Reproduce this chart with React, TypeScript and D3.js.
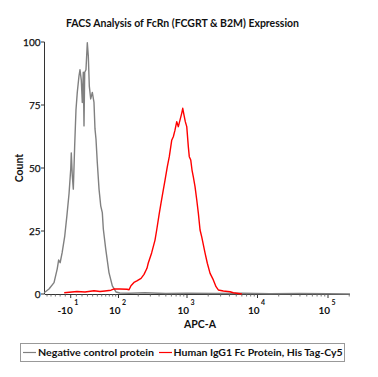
import React from "react";
import * as d3 from "d3";

const title = "FACS Analysis of FcRn (FCGRT & B2M) Expression";
const xTitle = "APC-A";
const yTitle = "Count";
const seriesNames = ["Negative control protein", "Human IgG1 Fc Protein, His Tag-Cy5"];
const seriesColors = ["#808080", "#ff0000"];

const yTicks = [0, 25, 50, 75, 100];
const xMajor = [
  { v: -10, base: "-10", exp: "1" },
  { v: 100, base: "10", exp: "2" },
  { v: 1000, base: "10", exp: "3" },
  { v: 10000, base: "10", exp: "4" },
  { v: 100000, base: "10", exp: "5" },
];

// Negative control (APC-A value, count)
const grayAPC = [-68, -55, -43, -36, -33, -30, -26, -21, -17, -13, -10, -9, -7.2, -5.4, -3, -0.7, 1.6, 4.6, 6.4, 8.7, 10.5, 12.3, 13.6, 14.9, 17.2, 19.7, 21.6, 23.5, 26.2, 29.4, 32.8, 34.9, 37, 39.9, 43.7, 47.6, 51.4, 53.9, 60, 69, 79, 91, 105, 150, 250, 500, 1000, 2500, 6000, 15000, 40000, 100000, 205000];
const grayCount = [0.5, 2, 4.5, 10, 13.5, 12.4, 16.4, 23, 31, 40, 49.6, 56, 47, 41.6, 58.7, 73, 80, 86.5, 89, 85, 76, 88, 66.7, 88, 89, 99.7, 94.4, 82.5, 77.4, 80, 76, 65.5, 61.5, 52, 41.6, 35, 32.3, 25.8, 17.9, 8.5, 3.2, 0.8, 0.4, 0.3, 0.5, 0.2, 0.3, 0.2, 0.3, 0.1, 0.2, 0.1, 0];

// Human IgG1 Fc (APC-A value, count)
const redAPC = [-22, 1.1, 15.4, 32.8, 46, 58, 75, 85, 105, 136, 146, 156, 173, 191, 220, 243, 268, 280, 313, 350, 370, 403, 426, 460, 487, 525, 560, 606, 639, 675, 715, 753, 795, 841, 870, 907, 946, 992, 1044, 1078, 1130, 1178, 1230, 1300, 1376, 1450, 1532, 1618, 1805, 1943, 2126, 2364, 2581, 2782, 3277, 4076, 4541, 6000];
const redCount = [0.5, 1, 0.8, 1.3, 1, 1.2, 1.5, 2, 2, 1.9, 1.7, 3.3, 4.6, 5.2, 6.2, 7.8, 10.2, 12.3, 16.3, 21.4, 25.4, 32, 36, 41.3, 45.2, 50.5, 54.5, 61, 62.4, 65, 68.4, 66.4, 69, 71.7, 73.7, 71, 68.4, 66.4, 58.5, 54.5, 53.2, 49.2, 46.5, 42.6, 37.3, 32, 25.4, 22.7, 16.2, 12.2, 8.2, 5.6, 2.9, 1.6, 1.2, 0.9, 0.5, 0];

const xDomain = [-66, 205000];
const yDomain = [0, 100];

const FONT = "Lato, 'Open Sans', sans-serif";

export default function App() {
  const D = 54;
  const tx = (v: number) => Math.asinh(v / D);
  const xLin = d3.scaleLinear().domain([tx(1000), tx(100000)]).range([187, 328]);
  const x = (v: number) => xLin(tx(v));
  const y = d3.scaleLinear().domain(yDomain).range([294, 42]);

  const line = d3
    .line<[number, number]>()
    .x((d) => x(d[0]))
    .y((d) => y(d[1]));

  const grayPts = grayAPC.map((v, i) => [v, grayCount[i]] as [number, number]);
  const redPts = redAPC.map((v, i) => [v, redCount[i]] as [number, number]);

  const minor: number[] = [];
  for (let v = -60; v <= 90; v += 10) if (v !== -10) minor.push(v);
  for (let k = 2; k <= 5; k++) for (let m = 2; m <= 9; m++) {
    const v = m * Math.pow(10, k);
    if (v <= xDomain[1]) minor.push(v);
  }

  const x0 = x(xDomain[0]);
  const x1 = x(xDomain[1]);
  const yb = y(0);

  return (
    <svg
      width={378}
      height={377}
      style={{ position: "absolute", left: 0, top: 0, background: "#fff" }}
      fontFamily={FONT}
    >
      <rect width={378} height={377} fill="#fff" />
      <text x={182.5} y={27} textAnchor="middle" fontSize={11} fontWeight="bold" fill="#111" textLength={233} lengthAdjust="spacingAndGlyphs">
        {title}
      </text>

      {/* y axis */}
      <line x1={44.5} x2={44.5} y1={y(100)} y2={yb} stroke="#333" strokeWidth={1} />
      {yTicks.map((t) => (
        <g key={t}>
          <line x1={41} x2={44.5} y1={y(t)} y2={y(t)} stroke="#333" strokeWidth={1} />
          <text x={40.5} y={y(t) + 3.5} textAnchor="end" fontSize={10} fill="#111" stroke="#111" strokeWidth={0.25}>
            {t}
          </text>
        </g>
      ))}
      <text
        transform={`translate(23,168) rotate(-90)`}
        textAnchor="middle"
        fontSize={10.5}
        fontWeight="bold"
        fill="#111"
      >
        {yTitle}
      </text>

      {/* x axis */}
      <line x1={x0} x2={x1} y1={yb + 0.5} y2={yb + 0.5} stroke="#333" strokeWidth={1} />
      {minor.map((v) => (
        <line key={"m" + v} x1={x(v)} x2={x(v)} y1={yb} y2={yb + 2.5} stroke="#555" strokeWidth={0.8} />
      ))}
      {xMajor.map((t) => (
        <g key={t.v}>
          <line x1={x(t.v)} x2={x(t.v)} y1={yb} y2={yb + 4} stroke="#333" strokeWidth={1} />
          <text x={x(t.v) + 2} y={314} textAnchor="end" fontSize={10} fontWeight="bold" fill="#111">
            {t.base}
          </text>
          <text x={x(t.v) + 3.5} y={305} textAnchor="start" fontSize={7} fontWeight="bold" fill="#111">
            {t.exp}
          </text>
        </g>
      ))}
      <text x={200} y={328} textAnchor="middle" fontSize={10.5} fontWeight="bold" fill="#111">
        {xTitle}
      </text>

      {/* series */}
      <path d={line(grayPts) || ""} fill="none" stroke={seriesColors[0]} strokeWidth={1.4} strokeLinejoin="round" />
      <path d={line(redPts) || ""} fill="none" stroke={seriesColors[1]} strokeWidth={1.4} strokeLinejoin="round" />

      {/* legend */}
      <rect x={20.5} y={343.5} width={324} height={18} fill="#fff" stroke="#999" strokeWidth={1} />
      <line x1={23} x2={36} y1={352.5} y2={352.5} stroke={seriesColors[0]} strokeWidth={1.2} />
      <text x={38} y={356} fontSize={10} fontWeight="bold" fill="#111" textLength={116} lengthAdjust="spacingAndGlyphs">
        {seriesNames[0]}
      </text>
      <line x1={159} x2={172} y1={352.5} y2={352.5} stroke={seriesColors[1]} strokeWidth={1.2} />
      <text x={173.5} y={356} fontSize={10} fontWeight="bold" fill="#111" textLength={169} lengthAdjust="spacingAndGlyphs">
        {seriesNames[1]}
      </text>
    </svg>
  );
}
